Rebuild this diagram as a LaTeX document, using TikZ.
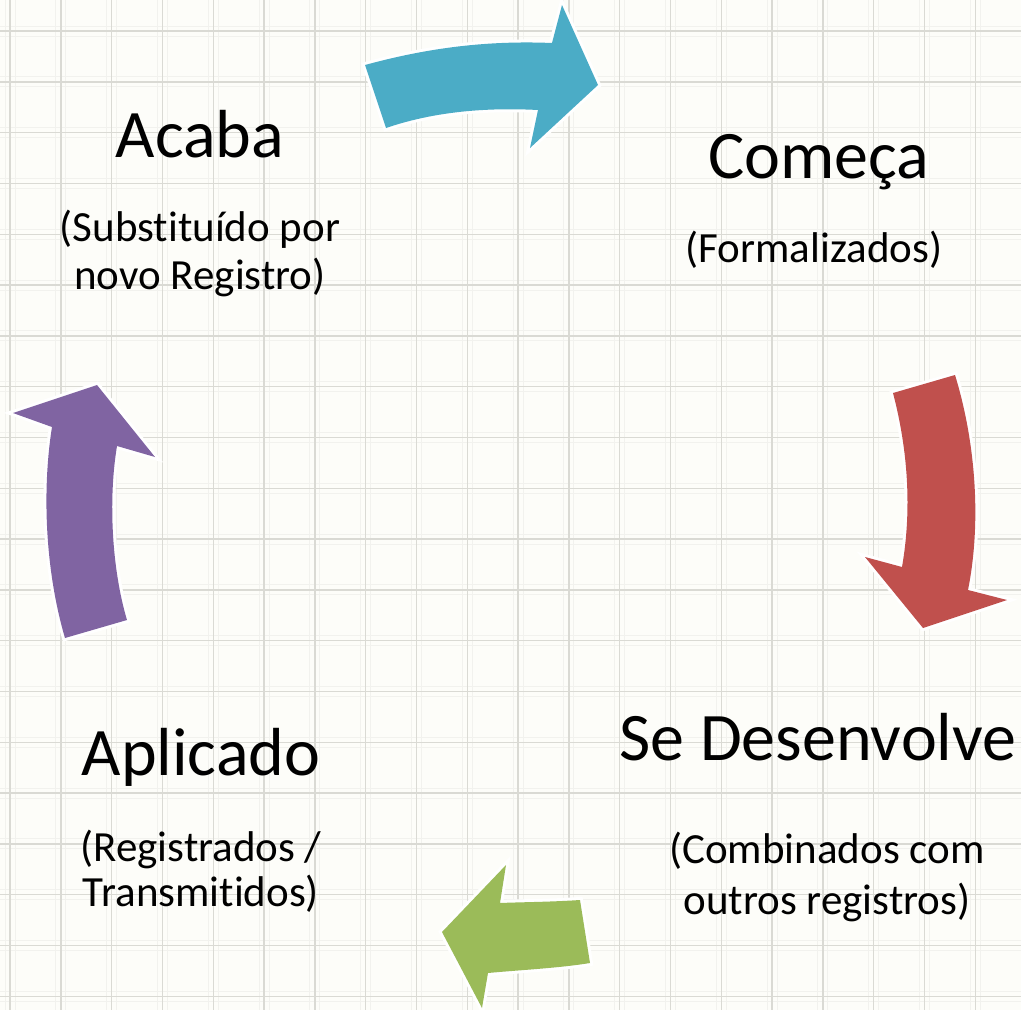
\documentclass[tikz,border=0pt]{standalone}
\usepackage{fontspec}
\setmainfont{Carlito}[Ligatures={NoCommon,NoContextual}]
\usepackage{tikz}
\usetikzlibrary{positioning}
\definecolor{paper}{HTML}{FDFDF9}
\definecolor{gridgray}{HTML}{DADAD4}
\definecolor{gridfaint}{HTML}{F2F2EE}
\definecolor{arrowblue}{HTML}{4BACC6}
\definecolor{arrowred}{HTML}{C0504D}
\definecolor{arrowgreen}{HTML}{9BBB59}
\definecolor{arrowpurple}{HTML}{8064A2}
\tikzset{
  bigarrow/.style={
    fill=#1,
    preaction={draw=white, line width=6pt, line join=miter}
  },
  stagetitle/.style={
    font=\fontsize{68}{80}\selectfont,
    inner sep=0pt,
    anchor=base
  },
  stagenote/.style={
    font=\fontsize{43}{48}\selectfont,
    align=center,
    inner sep=0pt
  }
}

\begin{document}
\begin{tikzpicture}[x=1pt, y=-1pt]

% Paper
\useasboundingbox[fill=paper] (0,0) rectangle (1021,1010);

% Grid
\foreach \i in {0,...,20} {
  \draw[gridfaint, line width=1pt] (5+50.8*\i,0) -- (5+50.8*\i,1010);
  \draw[gridfaint, line width=1pt] (15+50.8*\i,0) -- (15+50.8*\i,1010);
  \draw[gridfaint, line width=1pt] (0,26+50.8*\i) -- (1021,26+50.8*\i);
  \draw[gridfaint, line width=1pt] (0,36+50.8*\i) -- (1021,36+50.8*\i);
}
\foreach \i in {0,...,20} {
  \draw[gridgray, line width=1.4pt] (10+50.8*\i,0) -- (10+50.8*\i,1010);
  \draw[gridgray, line width=1.4pt] (0,31+50.8*\i) -- (1021,31+50.8*\i);
}

% Stages
\node[stagetitle] (acaba) at (200,157) {Acaba};
\node[stagenote, below=52pt of acaba] (acabanote)
  {(Substituído por\\novo Registro)};

\node[stagetitle] (comeca) at (819,178) {Começa};
\node[stagenote, below=41pt of comeca, xshift=-5pt] (comecanote)
  {(Formalizados)};

\node[stagetitle] (desenvolve) at (818,760) {Se Desenvolve};
\node[stagenote, font=\fontsize{43}{51}\selectfont,
  below=71pt of desenvolve, xshift=9pt] (desenvolvenote)
  {(Combinados com\\outros registros)};

\node[stagetitle] (aplicado) at (201,775) {Aplicado};
\node[stagenote, font=\fontsize{43}{45}\selectfont,
  below=44pt of aplicado] (aplicadonote)
  {(Registrados /\\Transmitidos)};

% Cycle arrows
\path[bigarrow=arrowblue] (365,65) .. controls (420,50) and (480,40) .. (552,43)
  -- (562,5) -- (598,85) -- (530,148) -- (538,110)
  .. controls (480,107) and (430,113) .. (386,128) -- cycle;

\path[bigarrow=arrowred] (893,393) -- (955,375)
  .. controls (975,440) and (982,520) .. (968,590)
  -- (1007,600) -- (923,628) -- (865,557) -- (902,567)
  .. controls (912,510) and (908,450) .. (893,393) -- cycle;

\path[bigarrow=arrowgreen] (580,900) .. controls (550,902) and (525,902) .. (500,903)
  -- (506,865) -- (442,932) -- (482,1008) -- (488,973)
  .. controls (520,970) and (560,968) .. (590,963) -- cycle;

\path[bigarrow=arrowpurple] (65,638) .. controls (45,570) and (42,490) .. (52,427)
  -- (13,413) -- (97,385) -- (155,457) -- (117,446)
  .. controls (108,500) and (112,570) .. (127,620) -- cycle;

\end{tikzpicture}
\end{document}
